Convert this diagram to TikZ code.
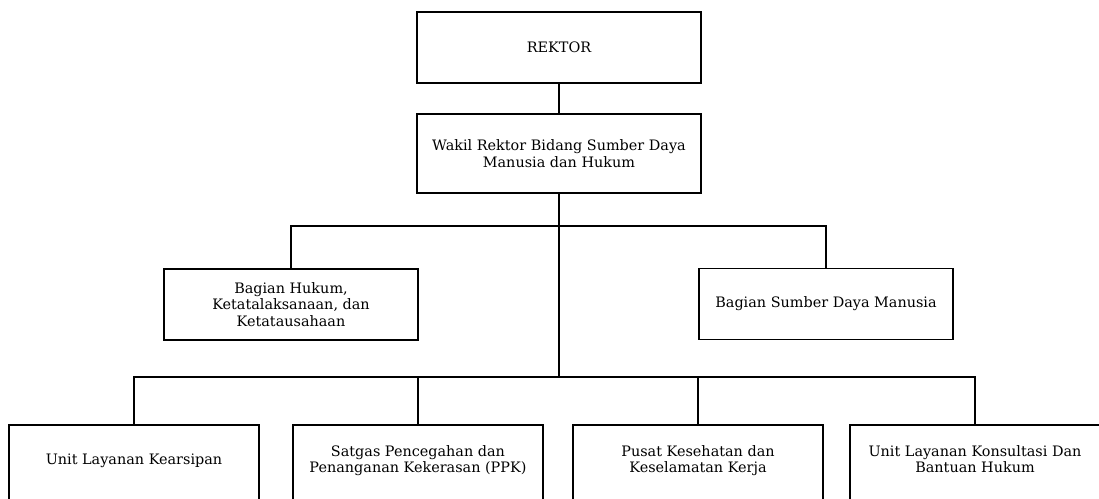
\documentclass[tikz,border=0pt]{standalone}
\usepackage{fontspec}
\setmainfont{DejaVu Serif}
\usepackage{tikz}
\usetikzlibrary{positioning, calc}

\begin{document}
\begin{tikzpicture}[
            x=1pt, y=-1pt,
            box/.style={draw, line width=1.3pt, minimum width=284pt, minimum height=71pt,
                        font=\fontsize{14.4}{16.5}\selectfont, align=center, inner sep=2pt},
            midbox/.style={box, minimum width=254pt, minimum height=71pt},
            unitbox/.style={box, minimum width=250pt, minimum height=82pt, text depth=14pt},
            link/.style={line width=1.3pt},
          ]
          \useasboundingbox (0,0) rectangle (1099,498);
          \node[box] (rektor) at (559,47.5) {REKTOR};
          \node[box, minimum height=79pt] (wakil) at (559,153.5) {Wakil Rektor Bidang Sumber Daya\\Manusia dan Hukum};
          \node[midbox] (hukum) at (291,304.5) {Bagian Hukum,\\Ketatalaksanaan, dan\\Ketatausahaan};
          \node[midbox] (sdm) at (826,304) {Bagian Sumber Daya Manusia};
          \node[unitbox] (arsip) at (134,466) {Unit Layanan Kearsipan};
          \node[unitbox] (ppk) at (418,466) {Satgas Pencegahan dan\\Penanganan Kekerasan (PPK)};
          \node[unitbox] (k3) at (698,466) {Pusat Kesehatan dan\\Keselamatan Kerja};
          \node[unitbox] (konsul) at (975,466) {Unit Layanan Konsultasi Dan\\Bantuan Hukum};
          \coordinate (midbar) at (559,226);
          \coordinate (lowbar) at (559,377);
          \draw[link] (rektor) -- (wakil);
          \draw[link] (wakil) -- (lowbar);
          \draw[link] (hukum.north) |- (midbar) -| (sdm.north);
          \draw[link] (arsip.north) |- (lowbar) -| (konsul.north);
          \draw[link] (ppk.north) -- (ppk.north |- lowbar);
          \draw[link] (k3.north) -- (k3.north |- lowbar);
        \end{tikzpicture}
\end{document}
